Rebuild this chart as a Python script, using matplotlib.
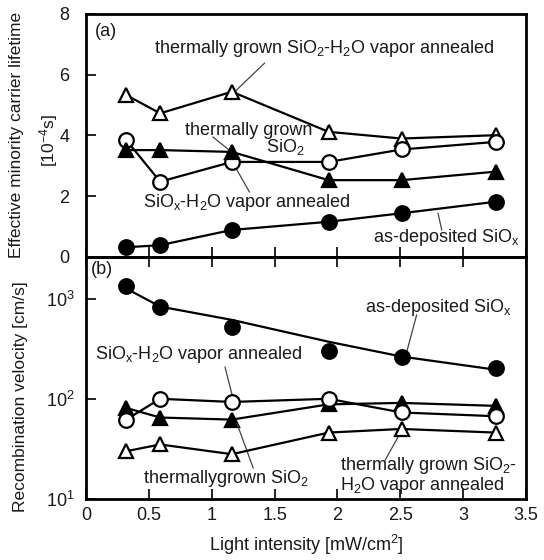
import matplotlib
matplotlib.use("Agg")
import matplotlib.pyplot as plt
import numpy as np

plt.rcParams['font.family'] = ['Liberation Sans', 'DejaVu Sans']
plt.rcParams['mathtext.fontset'] = 'custom'
plt.rcParams['mathtext.rm'] = 'Liberation Sans'
plt.rcParams['mathtext.it'] = 'Liberation Sans'
plt.rcParams['mathtext.default'] = 'regular'

# Data
light = [0.32, 0.59, 1.16, 1.93, 2.51, 3.26]

# (a) lifetime [1e-4 s]
tau_tg_h2o = [5.33, 4.73, 5.44, 4.12, 3.90, 4.01]   # open triangles
tau_siox_h2o = [3.85, 2.48, 3.13, 3.13, 3.54, 3.79]  # open circles
tau_tg = [3.52, 3.52, 3.46, 2.53, 2.53, 2.81]        # filled triangles
tau_asdep = [0.32, 0.39, 0.89, 1.16, 1.44, 1.82]     # filled circles

# (b) recombination velocity [cm/s]
s_asdep = [1334, 832, 525, 303, 264, 204]
s_asdep_fit = [1259, 832, 613, 371, 264, 195]
s_siox_h2o = [62, 100, 93, 100, 73, 67]
s_tg = [81, 65, 62, 88, 91, 85]
s_tg_h2o = [30, 35, 28, 46, 50, 46]

xticks = [0, 0.5, 1, 1.5, 2, 2.5, 3, 3.5]
xticklabels = ['0', '0.5', '1', '1.5', '2', '2.5', '3', '3.5']
yticks_a = [0, 2, 4, 6, 8]
yticks_b = [10, 100, 1000]
yticklabels_b = ['10$^1$', '10$^2$', '10$^3$']

W, H = 544, 560
fig = plt.figure(figsize=(W/100, H/100), dpi=100)
L, R = 86/W, 526/W
ax1 = fig.add_axes([L, 1-257/H, R-L, (257-14)/H])
ax2 = fig.add_axes([L, 1-499/H, R-L, (499-257)/H])

tc = '#1a1a1a'
lc = '#444444'
ms = 10.5
lw = 1.6
mew = 1.6
fs = 13

def style(ax):
    for s in ax.spines.values():
        s.set_linewidth(2.0)
    ax.tick_params(direction='in', length=7, width=1.2, labelsize=13,
                   colors='black', labelcolor=tc, top=False, right=False)

# panel (a)
ax1.plot(light, tau_tg_h2o, '-^', color='black', lw=lw, ms=ms, mfc='white', mew=mew, zorder=3)
ax1.plot(light, tau_siox_h2o, '-o', color='black', lw=lw, ms=ms, mfc='white', mew=mew, zorder=3)
ax1.plot(light, tau_tg, '-^', color='black', lw=lw, ms=ms, mfc='black', mew=mew, zorder=3)
ax1.plot(light, tau_asdep, '-o', color='black', lw=lw, ms=ms, mfc='black', mew=mew, zorder=3)
ax1.set_xlim(0, 3.5)
ax1.set_ylim(0, 8)
ax1.set_xticks(xticks)
ax1.set_xticklabels([])
ax1.set_yticks(yticks_a)
style(ax1)
ax1.tick_params(axis='y', pad=12)

ax1.text(0.02, 0.965, '(a)', transform=ax1.transAxes, fontsize=fs, color=tc, va='top', ha='left')
ax1.text(0.54, 6.87, 'thermally grown SiO$_2$-H$_2$O vapor annealed', fontsize=fs, color=tc, ha='left', va='center')
ax1.plot([1.42, 1.185], [6.38, 5.45], color=lc, lw=0.9)
ax1.text(0.79, 4.18, 'thermally grown', fontsize=fs, color=tc, ha='left', va='center')
ax1.text(1.43, 3.62, 'SiO$_2$', fontsize=fs, color=tc, ha='left', va='center')
ax1.plot([1.01, 1.16], [3.95, 3.45], color=lc, lw=0.9)
ax1.text(0.45, 1.81, 'SiO$_x$-H$_2$O vapor annealed', fontsize=fs, color=tc, ha='left', va='center')
ax1.plot([1.30, 1.17], [2.14, 3.09], color=lc, lw=0.9)
ax1.text(2.28, 0.63, 'as-deposited SiO$_x$', fontsize=fs, color=tc, ha='left', va='center')
ax1.plot([2.83, 2.80], [0.89, 1.44], color=lc, lw=0.9)

# panel (b)
ax2.plot(light, s_asdep_fit, '-', color='black', lw=lw, zorder=3)
ax2.plot(light, s_asdep, 'o', color='black', ms=ms, mfc='black', mew=mew, zorder=3)
ax2.plot(light, s_siox_h2o, '-o', color='black', lw=lw, ms=ms, mfc='white', mew=mew, zorder=3)
ax2.plot(light, s_tg, '-^', color='black', lw=lw, ms=ms, mfc='black', mew=mew, zorder=2)
ax2.plot(light, s_tg_h2o, '-^', color='black', lw=lw, ms=ms, mfc='white', mew=mew, zorder=3)
ax2.set_yscale('log')
ax2.set_xlim(0, 3.5)
ax2.set_ylim(10, 2600)
ax2.set_xticks(xticks)
ax2.set_xticklabels(xticklabels)
ax2.set_yticks(yticks_b)
ax2.set_yticklabels(yticklabels_b)
ax2.minorticks_off()
style(ax2)
ax2.tick_params(axis='y', pad=8)
ax2.tick_params(axis='x', pad=6)
sec = ax2.secondary_xaxis('top')
sec.set_xticks(xticks, labels=[])
sec.tick_params(direction='in', length=7, width=1.2)
sec.spines['top'].set_linewidth(2.0)

ax2.text(0.01, 0.985, '(b)', transform=ax2.transAxes, fontsize=fs, color=tc, va='top', ha='left')
ax2.text(2.22, 824, 'as-deposited SiO$_x$', fontsize=fs, color=tc, ha='left', va='center')
ax2.plot([2.63, 2.55], [686, 290], color=lc, lw=0.9)
ax2.text(0.07, 274, 'SiO$_x$-H$_2$O vapor annealed', fontsize=fs, color=tc, ha='left', va='center')
ax2.plot([1.106, 1.17], [207, 100], color=lc, lw=0.9)
ax2.text(0.45, 16.2, 'thermallygrown SiO$_2$', fontsize=fs, color=tc, ha='left', va='center')
ax2.plot([1.33, 1.20], [20.4, 57], color=lc, lw=0.9)
ax2.text(2.02, 17.2, 'thermally grown SiO$_2$-\nH$_2$O vapor annealed', fontsize=fs, color=tc,
         ha='left', va='center', linespacing=0.95)
ax2.plot([2.38, 2.50], [24.5, 45.6], color=lc, lw=0.9)

# labels
fig.text(17/W, 1-135/H, 'Effective minority carrier lifetime', rotation=90, fontsize=12.5,
         color=tc, ha='center', va='center')
fig.text(49/W, 1-141/H, '[10$^{-4}$s]', rotation=90, fontsize=12.5, color=tc, ha='center', va='center')
fig.text(21/W, 1-397/H, 'Recombination velocity [cm/s]', rotation=90, fontsize=12.5,
         color=tc, ha='center', va='center')
fig.text((L+R)/2, 1-545/H, 'Light intensity [mW/cm$^2$]', fontsize=13, color=tc, ha='center', va='center')

fig.savefig('out.png', dpi=100)
